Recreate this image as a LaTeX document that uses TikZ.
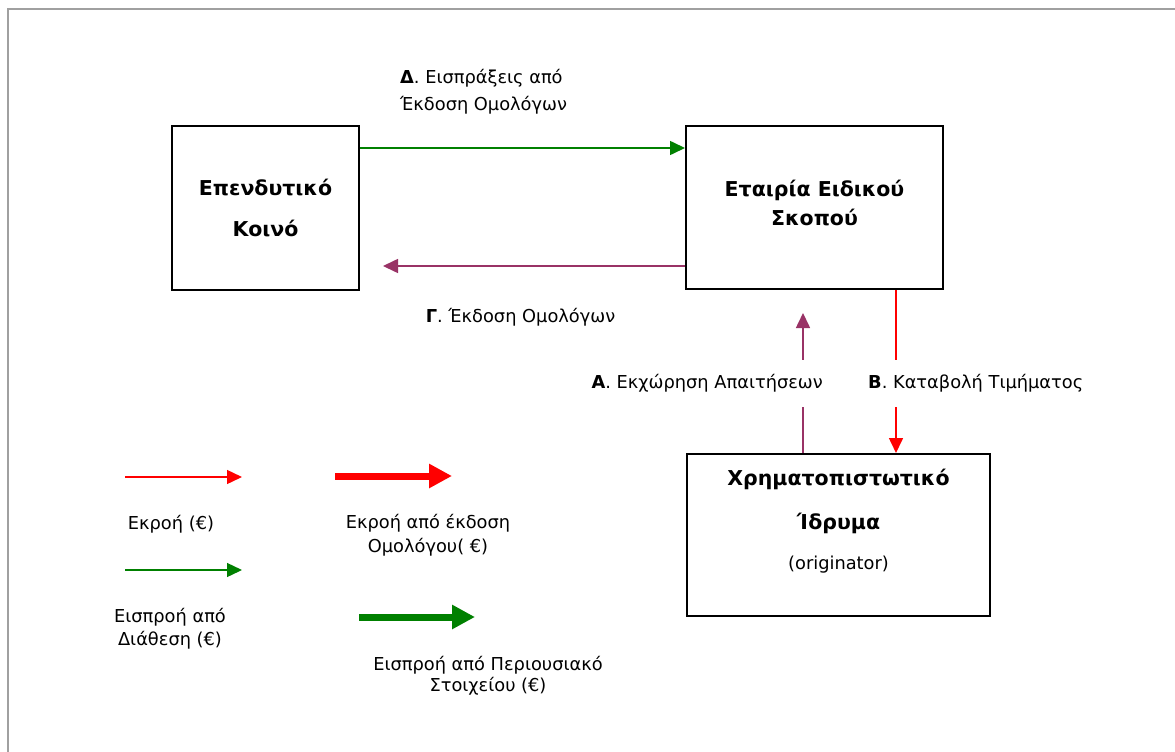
\documentclass[tikz,border=0pt]{standalone}
\usepackage{fontspec}
\setmainfont{DejaVu Sans}
\usetikzlibrary{arrows.meta,calc}
\definecolor{plum}{HTML}{993366}
\definecolor{dgreen}{HTML}{008000}
\definecolor{bred}{HTML}{FF0000}
\definecolor{framegray}{HTML}{A0A0A0}
\begin{document}
\begin{tikzpicture}[x=1pt,y=-1pt,
  box/.style={draw=black, line width=2pt, inner sep=0pt},
  boxtxt/.style={font=\fontsize{20.5}{41}\selectfont\bfseries, inner sep=0pt, align=center},
  txt/.style={font=\fontsize{17.8}{27}\selectfont, inner sep=0pt, align=center},
  lgtxt/.style={font=\fontsize{17.8}{23}\selectfont, inner sep=0pt, align=center},
  flow/.style={line width=1.6pt, -{Triangle[length=15pt,width=14pt]}},
  thick flow/.style={line width=7pt, -{Triangle[length=23pt,width=23pt]}},
  gap/.style={txt, fill=white, minimum height=47pt}
]
\useasboundingbox (0,0) rectangle (1175,752);
\draw[framegray, line width=2pt] (8,752) -- (8,9) -- (1175,9);

% boxes
\node[box, minimum width=187pt, minimum height=164pt] (inv) at (265.5,208) {};
\node[boxtxt] (invt) at (265.5,207.5) {Επενδυτικό\\Κοινό};
\node[box, minimum width=257pt, minimum height=163pt] (spv) at (814.5,207.5) {};
\node[boxtxt, font=\fontsize{20.5}{29}\selectfont\bfseries] (spvt) at (814.5,202.5) {Εταιρία Ειδικού\\Σκοπού};
\node[box, minimum width=303pt, minimum height=162pt] (bank) at (838.5,535) {};
\node[boxtxt, font=\fontsize{20.5}{44}\selectfont\bfseries] (bankt1) at (838.5,501) {Χρηματοπιστωτικό\\Ίδρυμα};
\node[txt] (bankt2) at (838.5,565) {(originator)};

% Delta
\draw[flow, dgreen] ($(inv.north east)+(0,23)$) -- ($(spv.north west)+(0,23)$);
\node[txt, align=left, anchor=west] (dlab) at (400,91.5) {\textbf{Δ}. Εισπράξεις από\\Έκδοση Ομολόγων};

% Gamma
\coordinate (gend) at (383,266);
\draw[flow, plum] (spv.west |- gend) -- (gend);
\node[txt] (glab) at (520.5,317) {\textbf{Γ}. Έκδοση Ομολόγων};

% A
\coordinate (aend) at (803,313);
\draw[flow, plum] (bank.north -| aend) -- (aend);
\node[gap, anchor=east] (alab) at (823,383.5) {\textbf{Α}. Εκχώρηση Απαιτήσεων};

% B
\coordinate (bx) at (896,0);
\draw[flow, bred] (spv.south -| bx) -- (bank.north -| bx);
\node[gap, anchor=west] (blab) at (868,383.5) {\textbf{Β}. Καταβολή Τιμήματος};

% legend
\coordinate (l1a) at (125,477); \coordinate (l1b) at (242,477);
\draw[flow, bred, line width=1.4pt] (l1a) -- (l1b);
\node[lgtxt] (l1t) at (171,524) {Εκροή (€)};

\coordinate (l2a) at (335,476); \coordinate (l2b) at (452,476);
\draw[thick flow, bred] (l2a) -- (l2b);
\node[lgtxt, font=\fontsize{17.8}{24}\selectfont] (l2t) at (428,535) {Εκροή από έκδοση\\Ομολόγου( €)};

\coordinate (l3a) at (125,570); \coordinate (l3b) at (242,570);
\draw[flow, dgreen, line width=1.4pt] (l3a) -- (l3b);
\node[lgtxt] (l3t) at (170,628.5) {Εισπροή από\\Διάθεση (€)};

\coordinate (l4a) at (359,617); \coordinate (l4b) at (475,617);
\draw[thick flow, dgreen] (l4a) -- (l4b);
\node[lgtxt, font=\fontsize{17.8}{21}\selectfont] (l4t) at (488,675.5) {Εισπροή από Περιουσιακό\\Στοιχείου (€)};
\end{tikzpicture}
\end{document}
